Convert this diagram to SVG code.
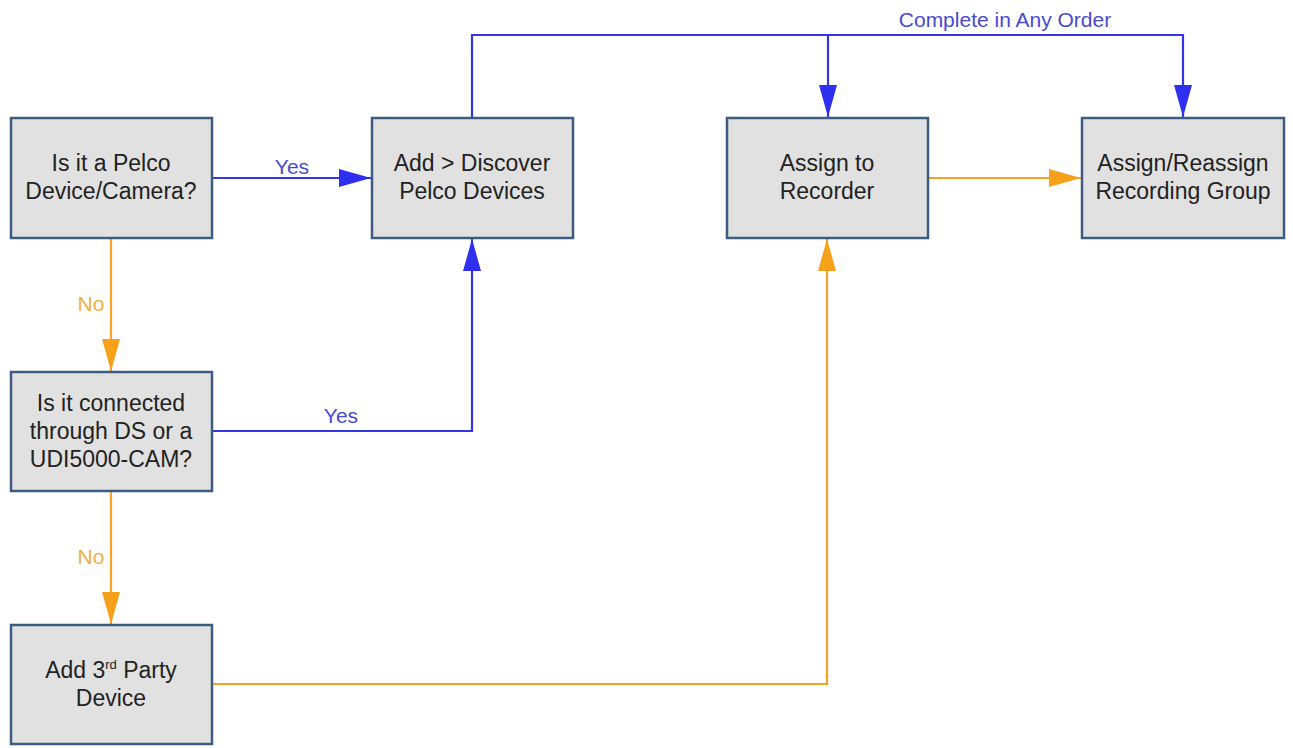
<svg xmlns="http://www.w3.org/2000/svg" width="1293" height="748" viewBox="0 0 1293 748">
<defs>
<marker id="ab" markerWidth="32" markerHeight="18" refX="32" refY="9" orient="auto" markerUnits="userSpaceOnUse" viewBox="0 0 32 18"><path d="M0,0 L32,9 L0,18 Z" fill="#2f2ff0"/></marker>
<marker id="ao" markerWidth="32" markerHeight="18" refX="32" refY="9" orient="auto" markerUnits="userSpaceOnUse" viewBox="0 0 32 18"><path d="M0,0 L32,9 L0,18 Z" fill="#f7a11a"/></marker>
</defs>
<style>
.box{fill:#e1e1e1;stroke:#3e5c82;stroke-width:2.5}
.t{font-family:"Liberation Sans",Arial,sans-serif;font-size:23px;fill:#222;text-anchor:middle}
.blue{fill:none;stroke:#3434e8;stroke-width:2.2}
.orange{fill:none;stroke:#f5a325;stroke-width:2.2}
.lb{font-family:"Liberation Sans",Arial,sans-serif;font-size:21px;fill:#4a4ad0;text-anchor:middle}
.lo{font-family:"Liberation Sans",Arial,sans-serif;font-size:21px;fill:#f0b040;text-anchor:middle}
</style>
<rect width="1293" height="748" fill="#fff"/>
<g id="connectors">
<path class="blue" d="M212,178 H371" marker-end="url(#ab)"/>
<path class="blue" d="M472,118 V35 H1183 V117" marker-end="url(#ab)"/>
<path class="blue" d="M828,35 V117" marker-end="url(#ab)"/>
<path class="blue" d="M212,431 H472 V239" marker-end="url(#ab)"/>
<path class="orange" d="M111,238 V371" marker-end="url(#ao)"/>
<path class="orange" d="M111,491 V624" marker-end="url(#ao)"/>
<path class="orange" d="M212,684 H827 V239" marker-end="url(#ao)"/>
<path class="orange" d="M928,178 H1081" marker-end="url(#ao)"/>
<text class="lb" x="292" y="174">Yes</text>
<text class="lb" x="341" y="423">Yes</text>
<text class="lb" x="1005" y="27">Complete in Any Order</text>
<text class="lo" x="91" y="311">No</text>
<text class="lo" x="91" y="564">No</text>
</g>
<g id="n1"><rect class="box" x="11" y="118" width="201" height="120"/><text class="t" x="111" y="171">Is it a Pelco</text><text class="t" x="111" y="199">Device/Camera?</text></g>
<g id="n2"><rect class="box" x="372" y="118" width="201" height="120"/><text class="t" x="472" y="171">Add &gt; Discover</text><text class="t" x="472" y="199">Pelco Devices</text></g>
<g id="n3"><rect class="box" x="727" y="118" width="201" height="120"/><text class="t" x="827" y="171">Assign to</text><text class="t" x="827" y="199">Recorder</text></g>
<g id="n4"><rect class="box" x="1082" y="118" width="202" height="120"/><text class="t" x="1183" y="171">Assign/Reassign</text><text class="t" x="1183" y="199">Recording Group</text></g>
<g id="n5"><rect class="box" x="11" y="372" width="201" height="119"/><text class="t" x="111" y="411">Is it connected</text><text class="t" x="111" y="439">through DS or a</text><text class="t" x="111" y="467">UDI5000-CAM?</text></g>
<g id="n6"><rect class="box" x="11" y="625" width="201" height="119"/><text class="t" x="111" y="678">Add 3<tspan font-size="13" dy="-9">rd</tspan><tspan dy="9"> Party</tspan></text><text class="t" x="111" y="706">Device</text></g>
</svg>
